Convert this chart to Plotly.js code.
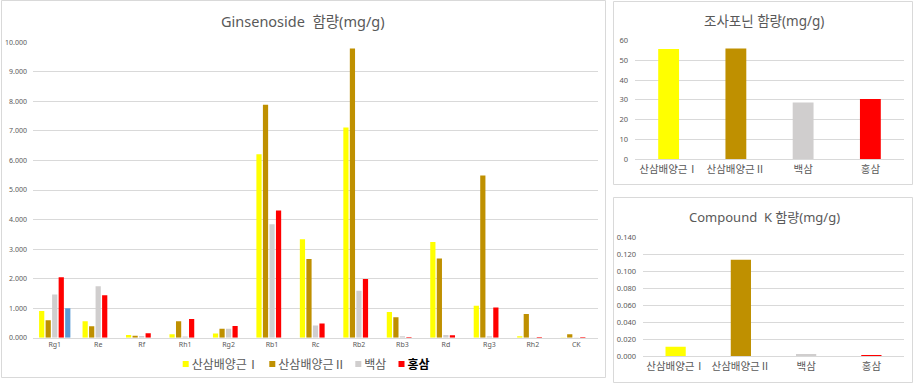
<!DOCTYPE html>
<html>
<head>
<meta charset="utf-8">
<script src="https://cdn.plot.ly/plotly-3.0.1.min.js"></script>
<style>html,body{margin:0;padding:0;background:#fff;}#chart{width:919px;height:391px;}</style>
</head>
<body>
<div id="chart"></div>
<script>
const categories = ['Rg1','Re','Rf','Rh1','Rg2','Rb1','Rc','Rb2','Rb3','Rd','Rg3','Rh2','CK'];
const seriesNames = ['산삼배양근Ⅰ','산삼배양근Ⅱ','백삼','홍삼'];
const legendLabels = ['산삼배양근Ⅰ','산삼배양근Ⅱ','백삼','<b>홍삼</b>'];
const cultured1 = [0.90,0.56,0.09,0.12,0.14,6.21,3.33,7.12,0.87,3.24,1.08,0.05,0.01];
const cultured2 = [0.59,0.39,0.07,0.56,0.30,7.89,2.66,9.79,0.69,2.68,5.49,0.80,0.12];
const whiteGinseng = [1.46,1.74,0.06,0.04,0.30,3.84,0.41,1.59,0.05,0.09,0.05,0.01,0.01];
const redGinseng = [2.05,1.44,0.15,0.63,0.40,4.31,0.48,1.99,0.02,0.08,1.02,0.02,0.02];
const extraSeries = [1.00,null,null,null,null,null,null,null,null,null,null,null,null];
const crudeSaponin = [55.8,56.1,28.7,30.4];
const compoundK = [0.0113,0.114,0.0027,0.0015];
const yTicksMain = [0,1,2,3,4,5,6,7,8,9,10];

const colors = ['#FFFF00','#BF9000','#D0CECE','#FF0000'];
const blue = '#5B9BD5';
const FONT = 'Noto Sans, Noto Sans CJK KR, sans-serif';
const GRAY = '#595959';
const GRID = '#D9D9D9';
const W = 919, H = 391;
const px = v => v / W;
const py = v => 1 - v / H;

const mainSeries = [cultured1, cultured2, whiteGinseng, redGinseng];
const traces = mainSeries.map((vals, i) => ({
  type: 'bar', x: categories, y: vals, name: legendLabels[i],
  marker: {color: colors[i]}, xaxis: 'x', yaxis: 'y'
}));
traces.push({type:'bar', x: categories, y: extraSeries, name: '', showlegend: false,
  marker: {color: blue}, xaxis: 'x', yaxis: 'y'});
traces.push({type:'bar', x: seriesNames, y: crudeSaponin, showlegend: false, width: 0.31,
  marker: {color: colors}, xaxis: 'x2', yaxis: 'y2'});
traces.push({type:'bar', x: seriesNames, y: compoundK, showlegend: false, width: 0.31,
  marker: {color: colors}, xaxis: 'x3', yaxis: 'y3'});

const axBase = {showline: false, zeroline: false, ticks: '', fixedrange: true};
const layout = {
  width: W, height: H,
  margin: {l:0, r:0, t:0, b:0},
  paper_bgcolor: '#fff', plot_bgcolor: '#fff',
  font: {family: FONT, color: GRAY},
  barmode: 'group', bargap: 0.25, bargroupgap: 0.2,
  showlegend: true,
  legend: {orientation: 'h', x: px(305), xanchor: 'center', y: py(364), yanchor: 'middle',
    font: {size: 12, color: GRAY, family: FONT}, itemwidth: 30, traceorder: 'normal',
    bgcolor: 'rgba(0,0,0,0)'},
  xaxis: Object.assign({}, axBase, {domain: [px(33), px(598)], showgrid: false,
    tickfont: {size: 7, color: GRAY}, anchor: 'y', showline: true, linecolor: GRID, linewidth: 1}),
  yaxis: Object.assign({}, axBase, {domain: [py(337.7), py(42.3)], range: [0, 10],
    tickvals: yTicksMain, tickformat: '.3f', showgrid: true, gridcolor: GRID, gridwidth: 1,
    tickfont: {size: 7, color: GRAY}, ticklabelstandoff: 5, anchor: 'x'}),
  xaxis2: Object.assign({}, axBase, {domain: [px(635), px(904)], showgrid: false,
    tickfont: {size: 10.5, color: GRAY}, anchor: 'y2', showline: true, linecolor: GRID, linewidth: 1}),
  yaxis2: Object.assign({}, axBase, {domain: [py(159), py(40.7)], range: [0, 60], dtick: 10,
    showgrid: true, gridcolor: GRID, tickfont: {size: 7.5, color: GRAY}, ticklabelstandoff: 6, anchor: 'x2'}),
  xaxis3: Object.assign({}, axBase, {domain: [px(643), px(904)], showgrid: false,
    tickfont: {size: 10.5, color: GRAY}, anchor: 'y3', showline: true, linecolor: GRID, linewidth: 1}),
  yaxis3: Object.assign({}, axBase, {domain: [py(356.3), py(237.7)], range: [0, 0.14], dtick: 0.02,
    tickformat: '.3f', showgrid: true, gridcolor: GRID, tickfont: {size: 7.5, color: GRAY}, ticklabelstandoff: 6, anchor: 'x3'}),
  annotations: [
    {text: 'Ginsenoside  함량(mg/g)', xref: 'paper', yref: 'paper', x: px(303), y: py(21),
      xanchor: 'center', yanchor: 'middle', showarrow: false, font: {size: 14.5, color: GRAY, family: FONT}},
    {text: '조사포닌 함량(mg/g)', xref: 'paper', yref: 'paper', x: px(764), y: py(21),
      xanchor: 'center', yanchor: 'middle', showarrow: false, font: {size: 13.5, color: GRAY, family: FONT}},
    {text: 'Compound  K 함량(mg/g)', xref: 'paper', yref: 'paper', x: px(764), y: py(217),
      xanchor: 'center', yanchor: 'middle', showarrow: false, font: {size: 13, color: GRAY, family: FONT}}
  ],
  shapes: [
    {type: 'rect', xref: 'paper', yref: 'paper', x0: px(1.5), x1: px(605.5), y0: py(377.5), y1: py(0.5),
      line: {color: GRID, width: 1}, fillcolor: 'rgba(0,0,0,0)', layer: 'below'},
    {type: 'rect', xref: 'paper', yref: 'paper', x0: px(613.5), x1: px(912.5), y0: py(184.5), y1: py(1.5),
      line: {color: GRID, width: 1}, fillcolor: 'rgba(0,0,0,0)', layer: 'below'},
    {type: 'rect', xref: 'paper', yref: 'paper', x0: px(613.5), x1: px(912.5), y0: py(382.5), y1: py(197.5),
      line: {color: GRID, width: 1}, fillcolor: 'rgba(0,0,0,0)', layer: 'below'}
  ]
};

// Excel-style compact legend: small squares placed close to their labels
const legendSymbolCenters = [185.7, 272.3, 358.3, 401.5];
const gd = document.getElementById('chart');
Plotly.newPlot(gd, traces, layout, {displayModeBar: false, staticPlot: true}).then(() => {
  const items = gd.querySelectorAll('.legend .traces');
  items.forEach((g, i) => {
    if (i >= legendSymbolCenters.length) return;
    const path = g.querySelector('.legendpoints path');
    if (!path) return;
    const r = path.getBoundingClientRect();
    const cx = r.left + r.width / 2;
    const dx = legendSymbolCenters[i] - cx;
    const m = /translate\(\s*([-\d.e]+)[ ,]*([-\d.e]*)\s*\)/.exec(g.getAttribute('transform') || '');
    const x0 = m ? parseFloat(m[1]) : 0;
    const y0 = m && m[2] ? parseFloat(m[2]) : 0;
    g.setAttribute('transform', 'translate(' + (x0 + dx) + ',' + y0 + ')');
    path.setAttribute('d', 'M3,3H-3V-3H3Z');
    const txt = g.querySelector('.legendtext');
    if (txt) {
      const r2 = path.getBoundingClientRect();
      const tr = txt.getBoundingClientRect();
      const shift = (r2.right + 3) - tr.left;
      txt.setAttribute('x', parseFloat(txt.getAttribute('x') || 0) + shift);
    }
    if (i === 3 && txt) txt.style.fill = '#000000';
  });
});
</script>
</body>
</html>
